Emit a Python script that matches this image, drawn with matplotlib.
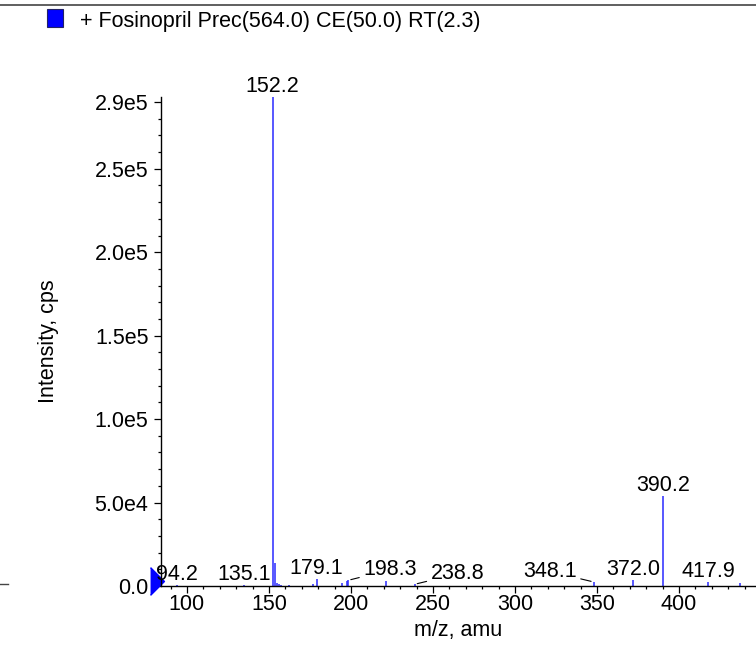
import matplotlib
matplotlib.use('Agg')
import matplotlib.pyplot as plt
from matplotlib.ticker import MultipleLocator, FixedLocator, FixedFormatter
from matplotlib.lines import Line2D
from matplotlib.patches import Rectangle
from matplotlib.transforms import offset_copy

plt.rcParams['font.family'] = ['Liberation Sans', 'DejaVu Sans']
plt.rcParams['font.size'] = 15.5

# spectrum: m/z and intensity (cps)
mz = [94.2, 135.1, 152.2, 154.0, 155.2, 156.2, 157.2, 162.0, 176.6, 179.1,
      194.4, 197.7, 198.3, 221.5, 238.8, 348.1, 372.0, 390.2, 417.9, 437.2]
intensity = [300, 400, 293000, 13500, 1500, 1000, 800, 600, 1400, 4300,
             1600, 3000, 3400, 3000, 1000, 2400, 3500, 54000, 2400, 2000]

# labelled peaks and where their labels sit (offset in pixels)
label_mz = [94.2, 135.1, 152.2, 179.1, 198.3, 238.8, 348.1, 372.0, 390.2, 417.9]
label_dx = [0, 0, 0, 0, 42, 43, -44, 0, 0, 0]

y_ticks = [0, 5e4, 1e5, 1.5e5, 2e5, 2.5e5, 2.9e5]
y_tick_labels = ['0.0', '5.0e4', '1.0e5', '1.5e5', '2.0e5', '2.5e5', '2.9e5']
x_ticks = [100, 150, 200, 250, 300, 350, 400]

title = '+ Fosinopril Prec(564.0) CE(50.0) RT(2.3)'
peak_color = '#2a2aff'

fig = plt.figure(figsize=(7.56, 6.47), dpi=100)
ax = fig.add_axes([161 / 756, 1 - 586 / 647, 1 - 161 / 756, (586 - 97) / 647])

ax.vlines(mz, 0, intensity, color=peak_color, lw=1.1)

ax.set_xlim(84.2, 447)
ax.set_ylim(0, max(intensity))

for spine in ['top', 'right']:
    ax.spines[spine].set_visible(False)
for spine in ['left', 'bottom']:
    ax.spines[spine].set_linewidth(1.0)

ax.yaxis.set_major_locator(FixedLocator(y_ticks))
ax.yaxis.set_major_formatter(FixedFormatter(y_tick_labels))
ax.yaxis.set_minor_locator(MultipleLocator(1e4))
ax.xaxis.set_major_locator(FixedLocator(x_ticks))
ax.xaxis.set_minor_locator(MultipleLocator(10))
ax.tick_params(which='major', length=5, width=0.9)
ax.tick_params(which='minor', length=2.5, width=0.9)
ax.tick_params(axis='y', which='major', pad=4)
ax.tick_params(axis='x', which='major', pad=0.5)

ax.set_xlabel('m/z, amu', labelpad=4)
ax.set_ylabel('Intensity, cps', labelpad=26)

# peak labels
for m, dx in zip(label_mz, label_dx):
    h = intensity[mz.index(m)]
    props = None
    if dx != 0:
        props = dict(arrowstyle='-', lw=0.8, color='black', shrinkA=1, shrinkB=2)
    ax.annotate(f'{m:.1f}', xy=(m, h), xytext=(dx, 5), textcoords='offset pixels',
                ha='center', va='baseline', arrowprops=props, annotation_clip=False)

# blue precursor marker at the left end of the axis
tri = offset_copy(ax.transData, fig=fig, x=-4, y=5, units='dots')
ax.plot([ax.get_xlim()[0]], [0], marker=[(-0.5, -1), (0.5, 0), (-0.5, 1)],
        markersize=20, color='blue', clip_on=False, transform=tri)

# legend-like header
fig.patches.append(Rectangle((47 / 756, 1 - 27 / 647), 16 / 756, 18 / 647,
                             transform=fig.transFigure, facecolor='blue',
                             edgecolor='#222266', lw=0.8))
fig.text(80 / 756, 1 - 22 / 647, title, ha='left', va='center')

fig.add_artist(Line2D([0, 1], [1 - 5 / 647, 1 - 5 / 647], color='#444444', lw=1.2))
fig.add_artist(Line2D([0, 8 / 756], [1 - 584 / 647, 1 - 584 / 647], color='#444444', lw=1.0))

fig.savefig('out.png', dpi=100)
